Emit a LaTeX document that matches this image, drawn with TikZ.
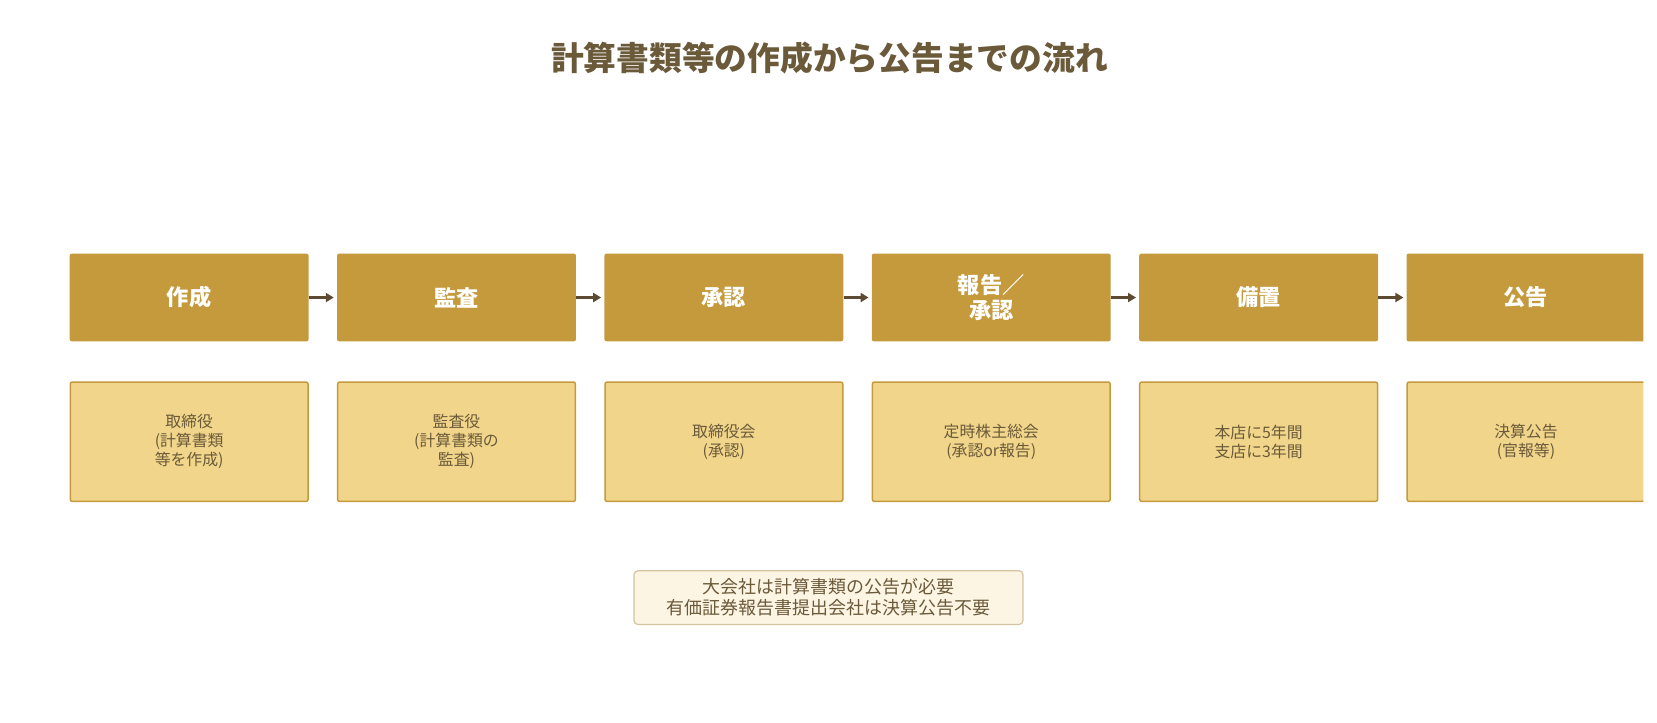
\documentclass[tikz,border=0pt]{standalone}
\usepackage{fontspec}
\setmainfont{Noto Sans CJK JP}
\usetikzlibrary{arrows.meta}
\definecolor{gold}{HTML}{C49A3C}
\definecolor{lightgold}{HTML}{F0D58A}
\definecolor{brown}{HTML}{6B5A3A}
\definecolor{arrowbrown}{HTML}{5C4A32}
\definecolor{notefill}{HTML}{FDF5E3}
\definecolor{noteline}{HTML}{D4C4A0}
\tikzset{
  stepbox/.style = {fill=gold,rounded corners=2pt,minimum width=226pt,minimum height=83pt,
        inner sep=0pt,align=center,text=white,font=\fontsize{21}{24}\selectfont\bfseries},
  whobox/.style = {fill=lightgold,draw=gold,line width=1.5pt,rounded corners=2pt,minimum width=225pt,
        minimum height=113pt,inner sep=0pt,align=center,text=brown,font=\fontsize{15}{18}\selectfont},
  arrow/.style = {arrowbrown,line width=3pt,-{Triangle[length=8pt,width=9pt]}}
}
\begin{document}
\begin{tikzpicture}[x=1pt,y=-1pt,scale=1.057,transform shape]
 \useasboundingbox (0,0) rectangle (1568,684);
 \node[text=brown,font=\fontsize{31}{36}\selectfont\bfseries] (title) at (785,55) {計算書類等の作成から公告までの流れ};
 \begin{scope}
 \clip (0,0) rectangle (1555,684);
 \node[stepbox] (s1) at (179,281.5) {作成};
 \node[stepbox] (s2) at (432,281.5) {監査};
 \node[stepbox] (s3) at (685,281.5) {承認};
 \node[stepbox] (s4) at (938,281.5) {報告／\\承認};
 \node[stepbox] (s5) at (1191,281.5) {備置};
 \node[stepbox] (s6) at (1444,281.5) {公告};
 \node[whobox] (w1) at (179,418) {取締役\\(計算書類\\等を作成)};
 \node[whobox] (w2) at (432,418) {監査役\\(計算書類の\\監査)};
 \node[whobox] (w3) at (685,418) {取締役会\\(承認)};
 \node[whobox] (w4) at (938,418) {定時株主総会\\(承認or報告)};
 \node[whobox] (w5) at (1191,418) {本店に5年間\\支店に3年間};
 \node[whobox] (w6) at (1444,418) {決算公告\\(官報等)};
 \end{scope}
 \foreach \a/\b in {s1/s2,s2/s3,s3/s4,s4/s5,s5/s6}
   \draw[arrow] (\a.east) -- ([xshift=-3pt]\b.west);
 \node[fill=notefill,draw=noteline,line width=1.2pt,rounded corners=4pt,align=center,text=brown,
   font=\fontsize{17}{20}\selectfont,minimum width=368pt,minimum height=51pt,inner sep=2pt] (note) at (784,565.5)
   {大会社は計算書類の公告が必要\\有価証券報告書提出会社は決算公告不要};
\end{tikzpicture}
\end{document}
